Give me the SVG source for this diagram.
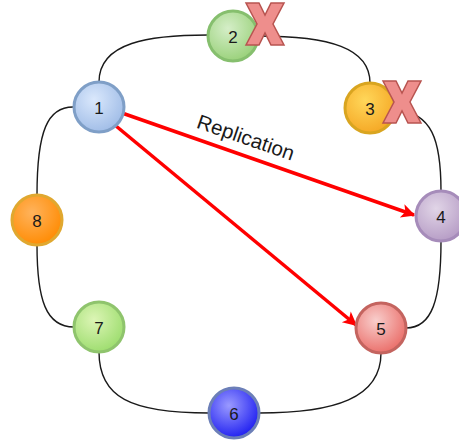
<svg xmlns="http://www.w3.org/2000/svg" width="459" height="440" viewBox="0 0 459 440">
<style>
.ring{fill:none;stroke:#1a1a1a;stroke-width:1.4}
.rep{fill:none;stroke:#ff0000;stroke-width:3.5}
.lbl{font-family:"Liberation Sans",Arial,sans-serif;font-size:17px;fill:#1a1a1a;text-anchor:middle;dominant-baseline:central}
.rl{font-size:20.5px}
.node circle{stroke-width:3}
.x{fill:#ee8e8c;stroke:#b85450;stroke-width:1.5;stroke-linejoin:miter}
</style>
<defs>
<marker id="ah" viewBox="0 0 10 10" refX="9" refY="5" markerWidth="16" markerHeight="14" markerUnits="userSpaceOnUse" orient="auto">
<path d="M0,0 L10,5 L0,10 L2.5,5 z" fill="#ff0000"/>
</marker>
<radialGradient id="g1" cx="0.4" cy="0.35" r="0.7"><stop offset="0" stop-color="#dae8fc"/><stop offset="1" stop-color="#9ebbe6"/></radialGradient>
<radialGradient id="g2" cx="0.4" cy="0.35" r="0.7"><stop offset="0" stop-color="#d5eec8"/><stop offset="1" stop-color="#97d077"/></radialGradient>
<radialGradient id="g3" cx="0.4" cy="0.35" r="0.7"><stop offset="0" stop-color="#ffd75a"/><stop offset="1" stop-color="#f5a623"/></radialGradient>
<radialGradient id="g4" cx="0.4" cy="0.35" r="0.7"><stop offset="0" stop-color="#e1d5e7"/><stop offset="1" stop-color="#b49ac4"/></radialGradient>
<radialGradient id="g5" cx="0.4" cy="0.35" r="0.7"><stop offset="0" stop-color="#f8cecc"/><stop offset="1" stop-color="#ea6b66"/></radialGradient>
<radialGradient id="g6" cx="0.4" cy="0.35" r="0.7"><stop offset="0" stop-color="#9a9aff"/><stop offset="1" stop-color="#1a1af0"/></radialGradient>
<radialGradient id="g7" cx="0.4" cy="0.35" r="0.7"><stop offset="0" stop-color="#dcf5b5"/><stop offset="1" stop-color="#9bdc6c"/></radialGradient>
<radialGradient id="g8" cx="0.4" cy="0.35" r="0.7"><stop offset="0" stop-color="#ffb35c"/><stop offset="1" stop-color="#ff8a00"/></radialGradient>
<path id="xshape" d="M-19,-21 L-6,-21 L0,-9 L6,-21 L19,-21 L8,0 L19,21 L6,21 L0,9 L-6,21 L-19,21 L-8,0 z"/>
</defs>
<rect width="459" height="440" fill="#ffffff"/>
<g id="connectors">
<path class="ring" d="M99,82 C99,42 150,35 208,35"/>
<path class="ring" d="M258,36 C330,36 370,48 370,83"/>
<path class="ring" d="M395,110 C432,112 441,140 441,191"/>
<path class="ring" d="M441,241 C441,300 432,328 406,328"/>
<path class="ring" d="M381,353 C381,398 335,413 259,413"/>
<path class="ring" d="M209,413 C130,413 99,397 99,352"/>
<path class="ring" d="M74,327 C46,327 37,300 37,245"/>
<path class="ring" d="M37,195 C37,130 48,107 73,107"/>
<path class="rep" d="M122,113 L414,215" marker-end="url(#ah)"/>
<path class="rep" d="M116,126 L356,325" marker-end="url(#ah)"/>
<text class="lbl rl" transform="translate(246,137) rotate(19)">Replication</text>
</g>
<g id="node1" class="node"><circle cx="99" cy="107" r="25" fill="url(#g1)" stroke="#7f9fc7"/><text class="lbl" x="99" y="108">1</text></g>
<g id="node2" class="node"><circle cx="233" cy="36" r="25" fill="url(#g2)" stroke="#86bf6e"/><text class="lbl" x="233" y="37">2</text></g>
<g id="node3" class="node"><circle cx="370" cy="108" r="25" fill="url(#g3)" stroke="#d9a520"/><text class="lbl" x="370" y="109">3</text></g>
<g id="node4" class="node"><circle cx="441" cy="216" r="25" fill="url(#g4)" stroke="#a68cba"/><text class="lbl" x="441" y="217">4</text></g>
<g id="node5" class="node"><circle cx="381" cy="328" r="25" fill="url(#g5)" stroke="#c4645f"/><text class="lbl" x="381" y="329">5</text></g>
<g id="node6" class="node"><circle cx="234" cy="413" r="25" fill="url(#g6)" stroke="#6c7fb8"/><text class="lbl" x="234" y="414">6</text></g>
<g id="node7" class="node"><circle cx="99" cy="327" r="25" fill="url(#g7)" stroke="#8fc46d"/><text class="lbl" x="99" y="328">7</text></g>
<g id="node8" class="node"><circle cx="37" cy="220" r="25" fill="url(#g8)" stroke="#e0a830"/><text class="lbl" x="37" y="221">8</text></g>
<g id="x2"><use href="#xshape" class="x" transform="translate(265,24)"/></g>
<g id="x3"><use href="#xshape" class="x" transform="translate(402,102)"/></g>
</svg>
